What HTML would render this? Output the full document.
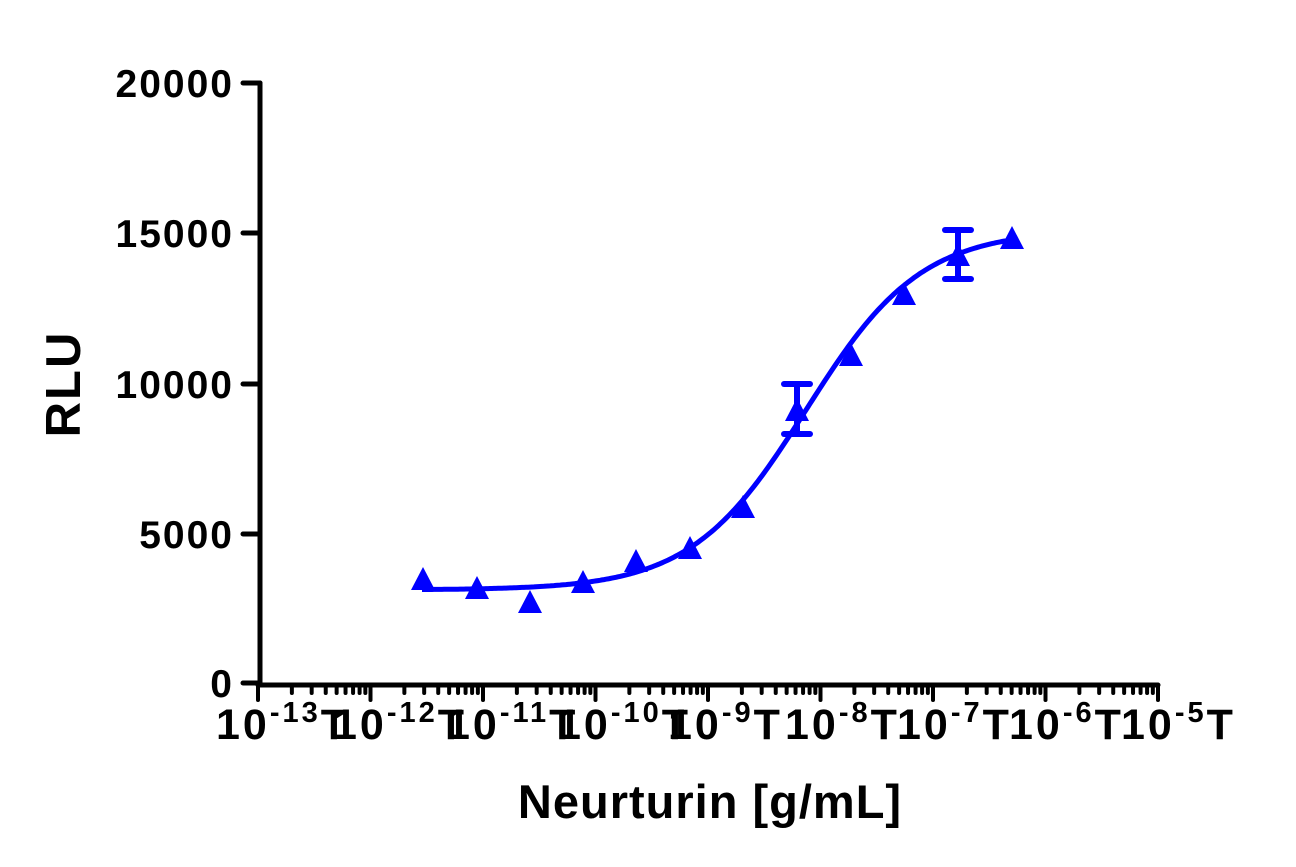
<!DOCTYPE html>
<html><head><meta charset="utf-8"><style>
html,body{margin:0;padding:0;background:#fff;}
svg{display:block;font-family:"Liberation Sans",Arial,sans-serif;font-weight:bold;}
</style></head><body>
<svg id="s" width="1296" height="867" viewBox="0 0 1296 867" xmlns="http://www.w3.org/2000/svg">
<g stroke="#000" stroke-width="5" stroke-linecap="round" fill="none">
<line x1="260" y1="83" x2="260" y2="685"/>
<line x1="258" y1="685" x2="1158" y2="685"/>
<line x1="243" y1="83" x2="260" y2="83"/>
<line x1="243" y1="233" x2="260" y2="233"/>
<line x1="243" y1="384" x2="260" y2="384"/>
<line x1="243" y1="534" x2="260" y2="534"/>
<line x1="243" y1="683" x2="260" y2="683"/>
<g id="xt" stroke-width="4"></g>
</g>
<g font-size="39" text-anchor="end" fill="#000" letter-spacing="2">
<text x="234" y="97">20000</text>
<text x="234" y="247">15000</text>
<text x="234" y="398">10000</text>
<text x="234" y="548">5000</text>
<text x="234" y="697">0</text>
</g>
<g font-size="43" fill="#000" letter-spacing="3">
<text x="216" y="739">10<tspan font-size="29" dy="-17">-13</tspan><tspan dy="17">T</tspan></text>
<text x="333" y="739">10<tspan font-size="29" dy="-17">-12</tspan><tspan dy="17">T</tspan></text>
<text x="446" y="739">10<tspan font-size="29" dy="-17">-11</tspan><tspan dy="17">T</tspan></text>
<text x="557" y="739">10<tspan font-size="29" dy="-17">-10</tspan><tspan dy="17">T</tspan></text>
<text x="668" y="739">10<tspan font-size="29" dy="-17">-9</tspan><tspan dy="17">T</tspan></text>
<text x="785" y="739">10<tspan font-size="29" dy="-17">-8</tspan><tspan dy="17">T</tspan></text>
<text x="897" y="739">10<tspan font-size="29" dy="-17">-7</tspan><tspan dy="17">T</tspan></text>
<text x="1009" y="739">10<tspan font-size="29" dy="-17">-6</tspan><tspan dy="17">T</tspan></text>
<text x="1121" y="739">10<tspan font-size="29" dy="-17">-5</tspan><tspan dy="17">T</tspan></text>
</g>
<text x="710" y="818" font-size="47" letter-spacing="1" text-anchor="middle">Neurturin [g/mL]</text>
<text transform="translate(80,384) rotate(-90)" font-size="49" letter-spacing="2" text-anchor="middle">RLU</text>
<path id="curve" fill="none" stroke="#0000ff" stroke-width="5"/>
<g stroke="#0000ff" stroke-width="6" stroke-linecap="round" fill="none">
<line x1="797" y1="384" x2="797" y2="434"/><line x1="784" y1="384" x2="810" y2="384"/><line x1="784" y1="434" x2="810" y2="434"/>
<line x1="958" y1="230" x2="958" y2="279"/><line x1="945" y1="230" x2="971" y2="230"/><line x1="945" y1="279" x2="971" y2="279"/>
</g>
<g id="pts" fill="#0000ff"></g>
</svg>
<script>
var ns="http://www.w3.org/2000/svg";
var xt=document.getElementById("xt");
var x0=258,dec=112.5;
for(var d=0;d<8;d++){for(var k=1;k<=10;k++){var x=x0+dec*(d+Math.log10(k));if(k==1&&d>0)continue;
var l=document.createElementNS(ns,"line");l.setAttribute("x1",x);l.setAttribute("x2",x);l.setAttribute("y1",685);l.setAttribute("y2",(k==1||k==10)?700:693);xt.appendChild(l);}}
var B=3100,T=15100,ec=806,h=0.85,s="";
for(var x=422;x<=1012;x+=2){var v=B+(T-B)/(1+Math.pow(10,(ec-x)/dec*h));var y=683-v*0.03;s+=(x==422?"M":"L")+x+" "+y.toFixed(1);}
document.getElementById("curve").setAttribute("d",s);
var P=[[423,581],[477,590],[530,604],[583,584],[636,563],[690,550],[743,509],[797,412],[851,357],[904,296],[958,257],[1012,240]];
var g=document.getElementById("pts");
P.forEach(function(p){var t=document.createElementNS(ns,"polygon");t.setAttribute("points",(p[0])+","+(p[1]-14)+" "+(p[0]-12)+","+(p[1]+9)+" "+(p[0]+12)+","+(p[1]+9));g.appendChild(t);});
</script>
</body></html>
